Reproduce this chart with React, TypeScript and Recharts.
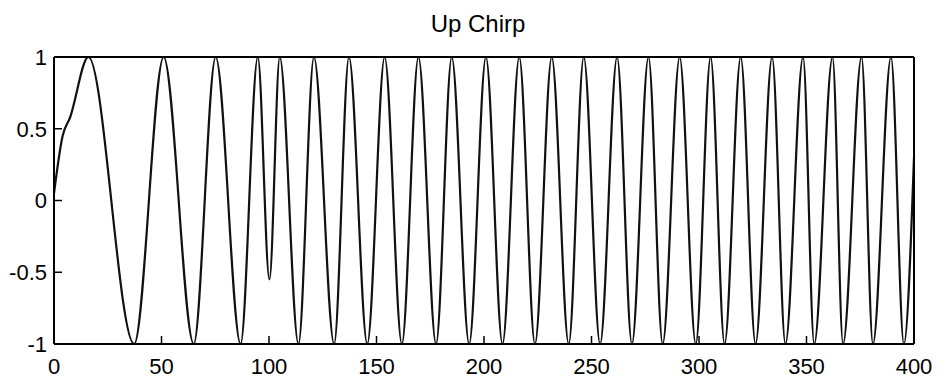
import React from 'react';
import { LineChart, Line, XAxis, YAxis } from 'recharts';

// sample times (s) at the turning points of the sweep, plus start/end
const chirpT = [
  0, 4, 7.5, 16, 37.3, 51, 65, 75.2, 86.8, 94.8, 100.2, 105, 113.7, 120.9,
  130.3, 137.2, 145.7, 153.8, 161.8, 169.5, 177.7, 185, 193.1, 200.9, 208.6,
  216.4, 223.7, 231.5, 239.4, 246.4, 254, 261.9, 268.8, 276.5, 283.1, 291,
  298.5, 305.4, 311.9, 319.4, 326.3, 334, 340.2, 348.4, 353.6, 362.1, 367,
  375.6, 380.9, 389.3, 395.3, 400,
];
const chirpAmp = [
  0.05, 0.45, 0.58, 1, -1, 1, -1, 1, -1, 1, -0.55, 1, -1, 1,
  -1, 1, -1, 1, -1, 1, -1, 1, -1, 1, -1,
  1, -1, 1, -1, 1, -1, 1, -1, 1, -1, 1,
  -1, 1, -1, 1, -1, 1, -1, 1, -1, 1, -1,
  1, -1, 1, -1, 0.3,
];

const xTicks = [0, 50, 100, 150, 200, 250, 300, 350, 400];
const yTicks = [-1, -0.5, 0, 0.5, 1];

const data = chirpT.map((t, i) => ({ t, amp: chirpAmp[i] }));

const font = { fontFamily: '"Liberation Sans", Arial, sans-serif', fontSize: 22, fill: '#000' };
const axisLine = { stroke: '#000', strokeWidth: 2 };
const tickLine = { stroke: '#000', strokeWidth: 1.5 };

export default function App() {
  return (
    <div style={{ position: 'relative', width: 930, height: 377 }}>
      <div
        style={{
          position: 'absolute',
          left: 362,
          top: 4,
          width: 216,
          textAlign: 'center',
          fontFamily: '"Liberation Sans", Arial, sans-serif',
          fontSize: 24,
          lineHeight: '24px',
          color: '#000',
        }}
      >
        Up Chirp
      </div>
      <LineChart width={930} height={377} data={data} margin={{ top: 44, right: 20, bottom: 11, left: 0 }}>
        <XAxis
          dataKey="t"
          type="number"
          domain={[0, 400]}
          ticks={xTicks}
          interval={0}
          height={30}
          tickSize={-8}
          tickMargin={22}
          tick={font}
          axisLine={axisLine}
          tickLine={tickLine}
        />
        <XAxis
          xAxisId="top"
          orientation="top"
          type="number"
          domain={[0, 400]}
          ticks={xTicks}
          height={5}
          tickSize={-8}
          tick={false}
          axisLine={axisLine}
          tickLine={tickLine}
        />
        <YAxis
          type="number"
          domain={[-1, 1]}
          ticks={yTicks}
          interval={0}
          width={46}
          tickSize={-8}
          tickMargin={15}
          tick={font}
          axisLine={axisLine}
          tickLine={tickLine}
        />
        <YAxis
          yAxisId="right"
          orientation="right"
          type="number"
          domain={[-1, 1]}
          ticks={yTicks}
          width={4}
          tickSize={-8}
          tick={false}
          axisLine={axisLine}
          tickLine={tickLine}
        />
        <Line
          dataKey="amp"
          type="monotone"
          stroke="#111"
          strokeWidth={2.2}
          dot={false}
          isAnimationActive={false}
        />
      </LineChart>
    </div>
  );
}
